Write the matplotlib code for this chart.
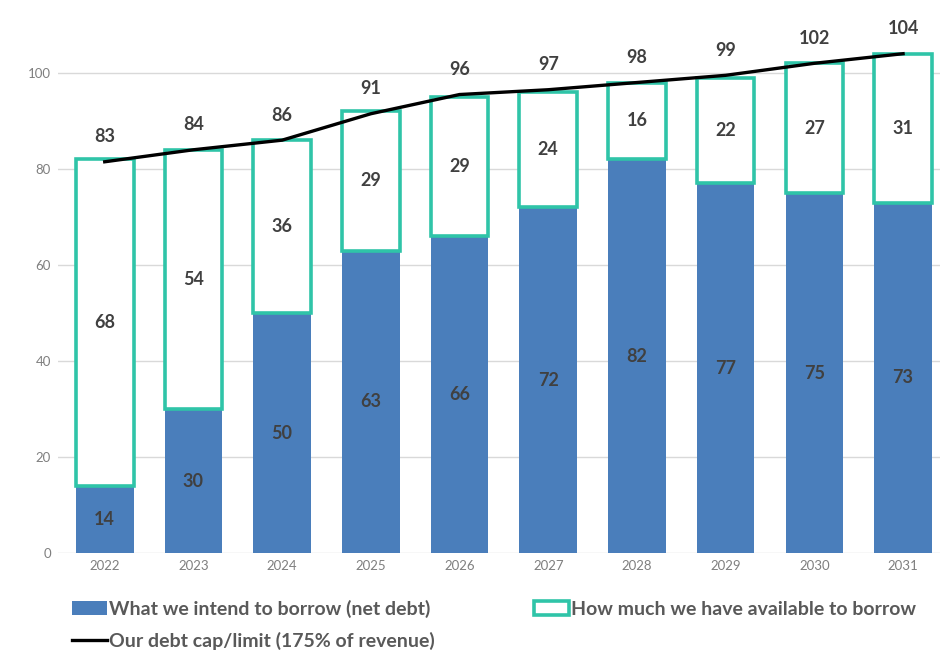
import numpy as np
import matplotlib.pyplot as plt
import matplotlib.patches as mpatches
from matplotlib.lines import Line2D

years = ['2022', '2023', '2024', '2025', '2026', '2027', '2028', '2029', '2030', '2031']
net_debt = [14, 30, 50, 63, 66, 72, 82, 77, 75, 73]
available = [68, 54, 36, 29, 29, 24, 16, 22, 27, 31]
debt_cap = [83, 84, 86, 91, 96, 97, 98, 99, 102, 104]
cap_line = [81.5, 84, 86, 91.5, 95.5, 96.5, 98, 99.5, 102, 104]

blue = '#4a7ebb'
teal = '#2fc4a8'
text_col = '#404040'

plt.rcParams['font.family'] = ['Lato', 'DejaVu Sans']

fig = plt.figure(figsize=(9.46, 6.54), dpi=100)
ax = fig.add_axes([0.061, 0.154, 0.933, 0.83])

x = np.arange(len(years))
w = 0.65
ax.bar(x, net_debt, width=w, color=blue, zorder=2)
ax.bar(x, available, width=w, bottom=net_debt, facecolor='white',
       edgecolor=teal, linewidth=2.6, zorder=3)
ax.plot(x, cap_line, color='black', linewidth=2.4, zorder=4)

for i in range(len(years)):
    ax.text(x[i], net_debt[i] / 2, str(net_debt[i]), ha='center', va='center',
            fontsize=13, fontweight='bold', color=text_col, zorder=5)
    ax.text(x[i], net_debt[i] + available[i] / 2, str(available[i]), ha='center',
            va='center', fontsize=13, fontweight='bold', color=text_col, zorder=5)
    ax.text(x[i], cap_line[i] + 5.2, str(debt_cap[i]), ha='center', va='center',
            fontsize=13, fontweight='bold', color=text_col, zorder=5)

ax.set_xlim(-0.53, 9.42)
ax.set_ylim(0, 113)
ax.set_yticks(range(0, 101, 20))
ax.set_xticks(x)
ax.set_xticklabels(years)
ax.tick_params(length=0, labelsize=9.5, labelcolor='#7f7f7f', pad=5)
ax.grid(axis='y', color='#d9d9d9', linewidth=1, zorder=0)
for s in ax.spines.values():
    s.set_visible(False)

h_net = mpatches.Patch(facecolor=blue, label='What we intend to borrow (net debt)')
h_cap = Line2D([], [], color='black', linewidth=2.4, label='Our debt cap/limit (175% of revenue)')
h_av = mpatches.Patch(facecolor='white', edgecolor=teal, linewidth=2.6,
                      label='How much we have available to borrow')
leg = fig.legend(handles=[h_net, h_cap, h_av], ncol=2, loc='lower left',
                 bbox_to_anchor=(0.058, -0.02), frameon=False, fontsize=14,
                 handlelength=1.8, handletextpad=0.1, columnspacing=5.1,
                 labelspacing=0.7)
for t in leg.get_texts():
    t.set_fontweight('bold')
    t.set_color('#595959')

fig.savefig('out.png', dpi=100)
